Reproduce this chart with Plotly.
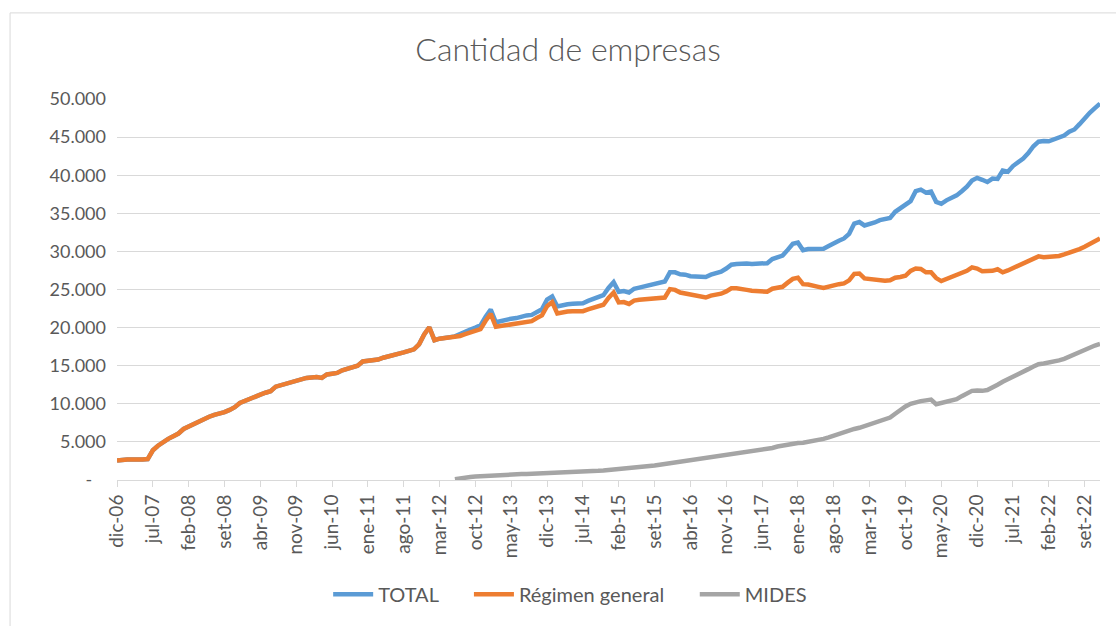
import plotly.graph_objects as go

# month labels dic-06 ... dic-22
meses = ['ene', 'feb', 'mar', 'abr', 'may', 'jun', 'jul', 'ago', 'set', 'oct', 'nov', 'dic']
periodos = ['dic-06'] + ['%s-%02d' % (m, a % 100) for a in range(2007, 2023) for m in meses]

regimen_general = [
    2550, 2650, 2700, 2700, 2650, 2700, 2750, 3900, 4500, 5000, 5400, 5750,
    6100, 6700, 7050, 7350, 7750, 8050, 8300, 8550, 8700, 8900, 9200, 9550,
    10100, 10400, 10750, 11000, 11200, 11450, 11650, 12250, 12450, 12650, 12800, 12900,
    13100, 13400, 13450, 13500, 13400, 13850, 13950, 14050, 14400, 14600, 14800, 15000,
    15550, 15600, 15650, 15800, 16050, 16200, 16350, 16450, 16750, 16950, 17150, 17800,
    19100, 20050, 18350, 18550, 18650, 18750, 18750, 18900, 19150, 19350, 19550, 19800,
    20900, 21800, 20100, 20200, 20400, 20450, 20500, 20700, 20800, 20850, 21250, 21600,
    22800, 23350, 21850, 22050, 22100, 22150, 22150, 22150, 22400, 22550, 22700, 23000,
    23900, 24600, 23300, 23350, 23100, 23550, 23650, 23700, 23750, 23800, 23850, 23950,
    25050, 24950, 24600, 24450, 24350, 24200, 24050, 23950, 24200, 24300, 24450, 24750,
    25150, 25150, 25100, 24950, 24850, 24800, 24750, 24700, 25100, 25200, 25350, 25900,
    26400, 26550, 25700, 25650, 25550, 25350, 25200, 25400, 25600, 25700, 25800, 26200,
    27050, 27100, 26450, 26350, 26300, 26250, 26150, 26200, 26550, 26650, 26800, 27450,
    27750, 27700, 27250, 27250, 26500, 26100, 26350, 26650, 26800, 27150, 27450, 27900,
    27750, 27400, 27450, 27450, 27650, 27250, 27500, 27800, 28100, 28350, 28700, 29100,
    29350, 29250, 29300, 29350, 29400, 29600, 29800, 30000, 30300, 30600, 30950, 31250,
    31700,
]

# MIDES starts in jun-12
mides = [None] * 66 + [
    100, 250, 350, 400, 450, 500,
    520, 550, 600, 650, 700, 720, 750, 780, 800, 820, 840, 860,
    880, 900, 920, 940, 960, 990, 1020, 1050, 1100, 1150, 1200, 1250,
    1300, 1350, 1400, 1450, 1500, 1550, 1600, 1700, 1800, 1900, 2000, 2100,
    2200, 2300, 2400, 2500, 2600, 2700, 2800, 2900, 3000, 3100, 3200, 3300,
    3400, 3500, 3550, 3650, 3750, 3850, 3950, 4050, 4200, 4400, 4550, 4700,
    4800, 4850, 4900, 5000, 5100, 5200, 5400, 5600, 5850, 6100, 6300, 6550,
    6700, 6850, 7050, 7300, 7500, 7750, 8000, 8200, 8700, 9200, 9650, 10000,
    10250, 10350, 10450, 10550, 9950, 10100, 10350, 10500, 10600, 11000, 11400, 11700,
    11750, 11700, 11800, 12100, 12500, 12900, 13200, 13600, 13950, 14200, 14550, 14900,
    15200, 15300, 15400, 15550, 15700, 15900, 16200, 16500, 16850, 17150, 17400, 17650,
    17850,
]

# before MIDES the total is the general regime
total = regimen_general[:66] + [
    18850, 19150, 19500, 19750, 20000, 20300,
    21420, 22350, 20700, 20850, 21100, 21170, 21250, 21480, 21600, 21670, 22000, 22400,
    23680, 24100, 22770, 22990, 23060, 23140, 23170, 23200, 23500, 23700, 23900, 24250,
    25200, 25950, 24700, 24800, 24600, 25100, 25250, 25400, 25550, 25700, 25850, 26050,
    27250, 27250, 27000, 26950, 26750, 26700, 26650, 26650, 26950, 27150, 27350, 27750,
    28250, 28350, 28400, 28400, 28350, 28350, 28400, 28450, 29000, 29200, 29450, 30200,
    31000, 31150, 30150, 30300, 30300, 30250, 30350, 30700, 31100, 31400, 31700, 32300,
    33650, 33850, 33400, 33550, 33800, 34100, 34300, 34400, 35200, 35700, 36100, 36600,
    37900, 38100, 37700, 37850, 36500, 36250, 36700, 37000, 37350, 37900, 38500, 39300,
    39650, 39400, 39100, 39550, 39500, 40600, 40450, 41200, 41700, 42200, 42900, 43800,
    44400, 44500, 44450, 44700, 44850, 45200, 45700, 46000, 46700, 47500, 48200, 48800,
    49400,
]

y_ticks = [0, 5000, 10000, 15000, 20000, 25000, 30000, 35000, 40000, 45000, 50000]
y_labels = ['-\u00a0\u00a0\u00a0', '5.000', '10.000', '15.000', '20.000', '25.000',
            '30.000', '35.000', '40.000', '45.000', '50.000']

font = 'Lato, Carlito, Calibri, sans-serif'
grey_txt = '#595959'
gap = '\u00a0' * 5  # extra room between legend entries

data = [
    go.Scatter(x=periodos, y=total, name='TOTAL' + gap, mode='lines',
               line=dict(color='#5B9BD5', width=4.5)),
    go.Scatter(x=periodos, y=regimen_general, name='Régimen general' + gap, mode='lines',
               line=dict(color='#ED7D31', width=4.5)),
    go.Scatter(x=periodos, y=mides, name='MIDES', mode='lines',
               line=dict(color='#A5A5A5', width=4.5)),
]

layout = go.Layout(
    width=1116, height=626,
    margin=dict(l=117, r=16, t=99, b=142),
    paper_bgcolor='white', plot_bgcolor='white',
    font=dict(family=font, color=grey_txt, size=19),
    title=dict(text='Cantidad de empresas', x=0.509, xanchor='center',
               y=0.92, yanchor='middle',
               font=dict(family=font, size=32, color=grey_txt, weight=300)),
    xaxis=dict(type='category', range=[0, len(periodos) - 1],
               tickmode='array', tickvals=periodos[::7], tickangle=-90,
               ticks='outside', ticklen=6, tickcolor='#d9d9d9',
               showline=True, linecolor='#d9d9d9', linewidth=1,
               showgrid=False, zeroline=False,
               tickfont=dict(size=19, color=grey_txt)),
    yaxis=dict(range=[0, 50000], tickmode='array', tickvals=y_ticks, ticktext=y_labels,
               showgrid=True, gridcolor='#d9d9d9', gridwidth=1,
               zeroline=False, showline=False, ticks='', ticklabelstandoff=10,
               tickfont=dict(size=18, color=grey_txt)),
    showlegend=True,
    legend=dict(orientation='h', x=0.461, xanchor='center', y=-0.3, yanchor='middle',
                font=dict(size=20, color=grey_txt), itemwidth=40,
                bgcolor='rgba(0,0,0,0)'),
    shapes=[dict(type='rect', xref='paper', yref='paper',
                 x0=-0.1088, x1=1.03, y0=-0.4, y1=1.226,
                 line=dict(color='#d9d9d9', width=1), layer='below')],
    hovermode='closest',
)

fig = go.Figure(data=data, layout=layout)
# drop the default page margin so the chart sits at the window corner
fig.write_html('out.html', config={'displayModeBar': False},
               post_script="document.body.style.margin='0px';")
